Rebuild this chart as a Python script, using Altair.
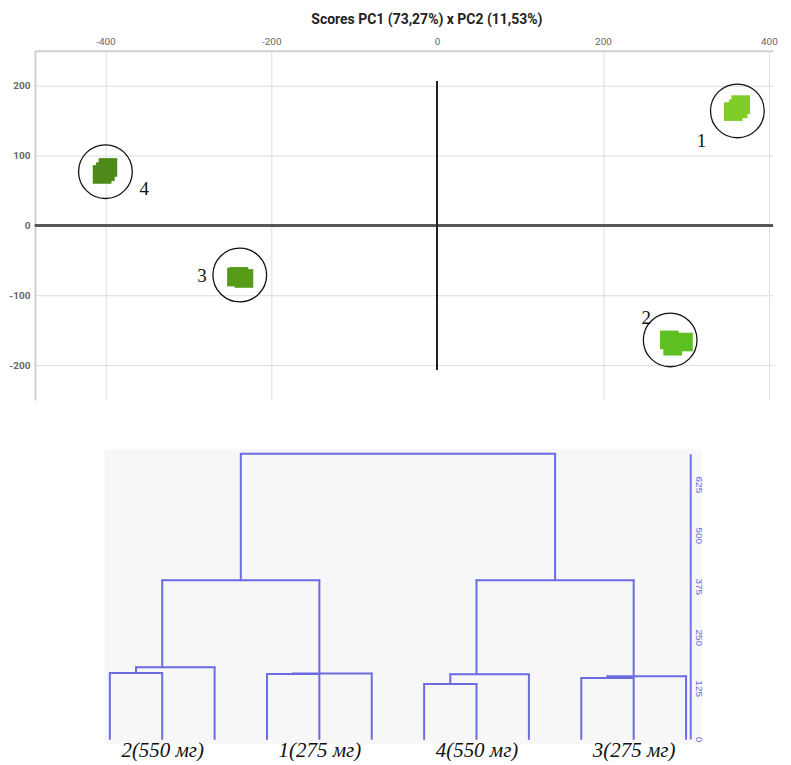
import altair as alt
import pandas as pd

# ---------------- PCA scores (top panel) ----------------
sample_cluster = ["1", "1", "1", "2", "2", "2", "3", "3", "3", "4", "4", "4"]
pc1 = [366, 357, 363, 280, 297, 284, -242, -233, -239, -397, -404, -400]
pc2 = [173, 163, 167, -164, -167, -173, -74, -76, -73, 83, 73, 77]

cluster_ids = ["1", "2", "3", "4"]
cluster_pc1 = [362, 281, -238, -400]
cluster_pc2 = [164, -164, -71, 77]
cluster_colors = ["#80cd2a", "#5ebf22", "#559b18", "#4d8a1a"]

x_ticks = [-400, -200, 0, 200, 400]
y_ticks = [-200, -100, 0, 100, 200]
zero_axis_extent = 207

# ---------------- dendrogram (bottom panel) ----------------
n_leaves = 12
leaf_labels = ["2(550 мг)", "1(275 мг)", "4(550 мг)", "3(275 мг)"]
leaf_label_pos = [1, 4, 7, 10]
merge_name = ["A1", "A2", "B1", "B2", "C1", "C2", "D1", "D2", "E", "F", "R"]
merge_left = ["L0", "A1", "L3", "B1", "L6", "C1", "L9", "D1", "A2", "C2", "E"]
merge_right = ["L1", "L2", "L4", "L5", "L7", "L8", "L10", "L11", "B2", "D2", "F"]
merge_height = [162, 176, 160, 161, 135, 159, 150, 154, 390, 390, 700]
merge_pos = [0.5, 1, 3.5, 4, 6.5, 7, 9.5, 10, 2.5, 8.5, 5.5]
dist_ticks = [0, 125, 250, 375, 500, 625]

# ---------------- top chart ----------------
scores = pd.DataFrame({"cluster": sample_cluster, "pc1": pc1, "pc2": pc2})
centers = pd.DataFrame({"cluster": cluster_ids, "pc1": cluster_pc1, "pc2": cluster_pc2})

xs = alt.Scale(domain=[-485, 405], nice=False, zero=False)
ys = alt.Scale(domain=[-250, 250], nice=False, zero=False)

x_enc = alt.X("pc1:Q", scale=xs, axis=alt.Axis(
    orient="top", values=x_ticks, title=None, ticks=False,
    domainColor="#d0d0d0", domainWidth=2,
    grid=True, gridColor="#dddddd",
    gridOpacity={"condition": {"test": "datum.value === 0", "value": 0}, "value": 1},
    labelColor="#666666", labelFont="Roboto", labelFontSize=10, labelPadding=4,
    labelExpr="replace(datum.label, '\u2212', '-')"))
y_enc = alt.Y("pc2:Q", scale=ys, axis=alt.Axis(
    orient="left", values=y_ticks, title=None, ticks=False,
    domainColor="#d0d0d0", domainWidth=2,
    grid=True, gridColor="#dddddd",
    labelColor="#666666", labelFont="Roboto", labelFontSize=10,
    labelFontWeight="bold", labelPadding=5,
    labelExpr="replace(datum.label, '\u2212', '-')"))

squares = alt.Chart(scores).mark_square(size=350, opacity=1).encode(
    x=x_enc, y=y_enc,
    color=alt.Color("cluster:N", scale=alt.Scale(domain=cluster_ids, range=cluster_colors), legend=None),
)

hzero = alt.Chart(scores).mark_rule(color="#555555", strokeWidth=1.5).encode(y=alt.datum(0))
vzero = alt.Chart(scores).mark_rule(color="#222222", strokeWidth=1.2).encode(
    x=alt.datum(0), y=alt.datum(-zero_axis_extent), y2=alt.datum(zero_axis_extent))

rings = alt.Chart(centers).mark_point(shape="circle", size=2900, filled=False,
                                      color="#111111", strokeWidth=1.3, opacity=1).encode(
    x="pc1:Q", y="pc2:Q")

label_offsets = {"1": (-36, 30), "2": (-24, -22), "3": (-38, 1), "4": (39, 17)}
labels = []
for cid in cluster_ids:
    dx, dy = label_offsets[cid]
    labels.append(
        alt.Chart(centers[centers["cluster"] == cid]).mark_text(
            font="Liberation Serif", fontSize=19, color="#111111", dx=dx, dy=dy
        ).encode(x="pc1:Q", y="pc2:Q", text="cluster:N")
    )

top = alt.layer(hzero, vzero, squares, rings, *labels).properties(
    width=740, height=350,
    title=alt.TitleParams("Scores PC1 (73,27%) x PC2 (11,53%)", font="Roboto",
                          fontSize=14, fontWeight="bold", color="#222222",
                          dx=23, offset=10),
)

# ---------------- dendrogram ----------------
nodes = {f"L{i}": (i, 0) for i in range(n_leaves)}
rows = []
for name, l, r, h, p in zip(merge_name, merge_left, merge_right, merge_height, merge_pos):
    lx, lh = nodes[l]
    rx, rh = nodes[r]
    rows.append(dict(x=lx, x2=lx, y=lh, y2=h))
    rows.append(dict(x=rx, x2=rx, y=rh, y2=h))
    rows.append(dict(x=lx, x2=rx, y=h, y2=h))
    nodes[name] = (p, h)
segs = pd.DataFrame(rows)

label_expr = " : ".join(
    f"datum.value == {p} ? '{t}'" for p, t in zip(leaf_label_pos, leaf_labels)) + " : ''"

dxs = alt.Scale(domain=[-1.43, 11.08], nice=False, zero=False)
dys = alt.Scale(domain=[0, 700], nice=False, zero=False)

dx_axis = alt.Axis(
    orient="bottom", values=leaf_label_pos, labelExpr=label_expr, title=None,
    domain=False, ticks=False, grid=False, labelFont="Liberation Serif",
    labelFontStyle="italic", labelFontSize=21, labelColor="#111111",
    labelPadding=0, labelBaseline="top", zindex=1)
dy_axis = alt.Axis(
    orient="right", values=dist_ticks, title=None, ticks=False, grid=False,
    domainColor="#7373e6", domainWidth=2, labelAngle=90,
    labelColor="#6b6be3", labelFont="Liberation Sans", labelFontSize=10,
    labelPadding=3, zindex=1)

panel = pd.DataFrame({"x": [-0.1], "x2": [11.3], "y": [-12], "y2": [711]})
bg = alt.Chart(panel).mark_rect(color="#f7f7f7").encode(
    x=alt.X("x:Q", scale=dxs, axis=dx_axis), x2="x2:Q",
    y=alt.Y("y:Q", scale=dys, axis=dy_axis), y2="y2:Q")

tree = alt.Chart(segs).mark_rule(color="#6b6be3", strokeWidth=2, strokeCap="round").encode(
    x=alt.X("x:Q", scale=dxs, axis=dx_axis),
    x2="x2:Q",
    y=alt.Y("y:Q", scale=dys, axis=dy_axis),
    y2="y2:Q",
)

bottom = alt.layer(bg, tree).properties(width=657, height=286)

chart = alt.vconcat(top, bottom, spacing=49).properties(
    padding={"left": 0, "top": 4, "right": 5, "bottom": 0},
    background="white",
).configure_view(stroke=None)

chart.save("out.html", embed_options={"renderer": "svg", "actions": False})
